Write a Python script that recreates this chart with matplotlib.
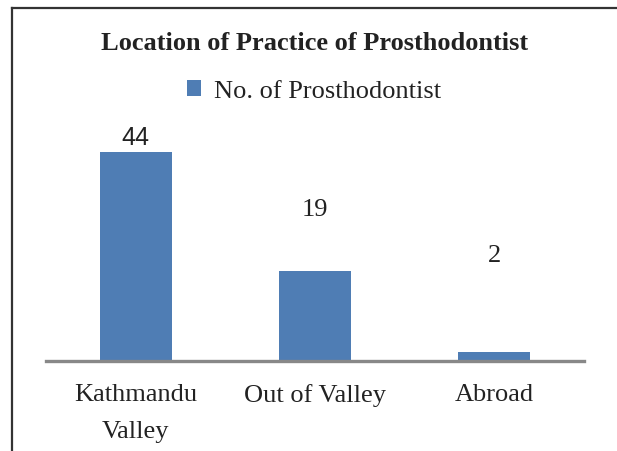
import matplotlib.pyplot as plt
from matplotlib.lines import Line2D
from matplotlib.patches import Patch

plt.rcParams['font.family'] = ['Liberation Serif', 'DejaVu Serif']

# data
categories = ['Kathmandu\nValley', 'Out of Valley', 'Abroad']
counts = [44, 19, 2]
# heights (in data units) where the value labels sit
label_heights = [47.2, 32.1, 22.4]
label_fonts = ['Liberation Sans', 'Liberation Serif', 'Liberation Serif']

bar_color = '#4F7DB4'
txt = '#222222'

fig = plt.figure(figsize=(6.17, 4.52), dpi=100)
ax = fig.add_axes([46 / 617, 1 - 362 / 452, 538 / 617, 237.5 / 452])

x = range(len(categories))
ax.bar(x, counts, width=0.4, color=bar_color, zorder=2)
for xi, v, h, f in zip(x, counts, label_heights, label_fonts):
    ax.text(xi, h, str(v), ha='center', va='center', fontsize=18 if f.endswith('Sans') else 19,
            family=f, color=txt)

ax.set_xlim(-0.5, 2.5)
ax.set_ylim(0, 50)
ax.set_xticks(list(x))
ax.set_xticklabels(categories, fontsize=19, color=txt, linespacing=1.85)
ax.tick_params(axis='x', length=0, pad=16)
ax.set_yticks([])
for s in ['top', 'right', 'left']:
    ax.spines[s].set_visible(False)
ax.spines['bottom'].set_color('#888888')
ax.spines['bottom'].set_linewidth(2.4)
ax.spines['bottom'].set_zorder(3)

# title and legend
fig.text(0.51, 1 - 44 / 452, 'Location of Practice of Prosthodontist',
         ha='center', va='center', fontsize=19, fontweight='bold', color=txt)
handle = Patch(facecolor=bar_color, edgecolor='none')
fig.legend([handle], ['No. of Prosthodontist'], loc='center',
           bbox_to_anchor=(314 / 617, 1 - 92 / 452), frameon=False,
           fontsize=19, handlelength=0.55, handleheight=0.55, handletextpad=0.5,
           labelcolor=txt)

# partial outer frame (top and left)
fy = 1 - 8.5 / 452
fx = 11.5 / 617
fig.add_artist(Line2D([fx, 1], [fy, fy], transform=fig.transFigure, color='#333333', lw=1.6))
fig.add_artist(Line2D([fx, fx], [0, fy], transform=fig.transFigure, color='#333333', lw=1.6))

fig.savefig('out.png', dpi=100)
